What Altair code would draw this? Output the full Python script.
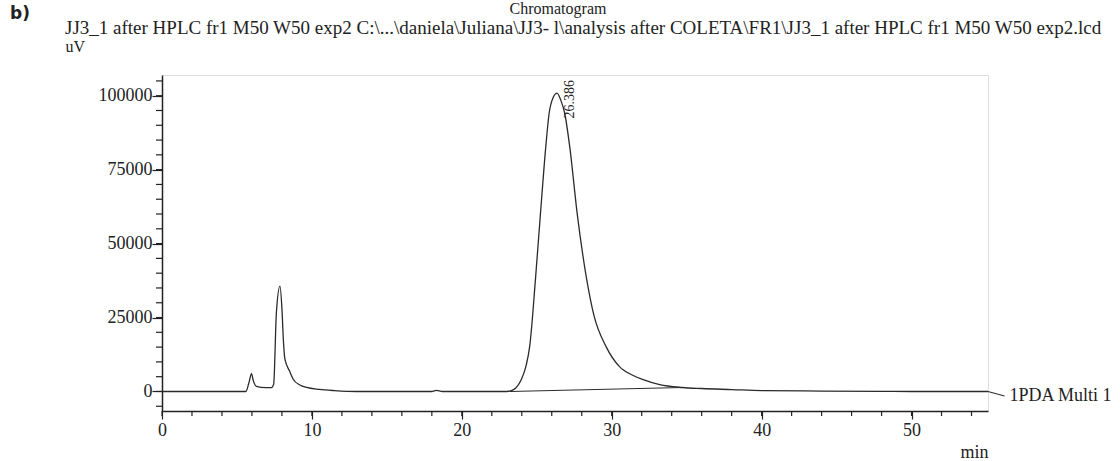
import altair as alt
import pandas as pd

# ---- data ----
time_min = [0, 2.5, 5.6, 5.8, 5.97, 6.1, 6.3, 6.6, 7.3, 7.45, 7.63, 7.87, 8.0, 8.1, 8.2, 8.5,
            8.75, 9.2, 9.65, 10.5, 11.5, 13, 18, 18.3, 18.7, 20, 23.0, 23.3, 23.6, 23.98, 24.3,
            24.53, 24.91, 25.25, 25.6, 25.82, 26.1, 26.35, 26.6, 26.87, 27.2, 27.69, 28.31,
            28.8, 29.64, 30.5, 31.4, 32.1, 33.2, 34.7, 36, 38, 40, 44, 48, 50, 55.1]
signal_uv = [0, 0, 0, 3000, 6000, 3500, 1700, 1400, 1300, 2500, 26600, 35600, 28000, 17000,
             10900, 7000, 4140, 2200, 1350, 700, 300, 0, 0, 400, 0, 0, 0, 300, 1200, 4140, 9000,
             15350, 37800, 60400, 82700, 93900, 99500, 100900, 98500, 93900, 82700, 60400, 38500,
             26000, 15000, 8500, 5500, 4000, 2300, 1350, 1000, 650, 300, 150, 50, 0, 0]

baseline_time = [23.2, 34.7]
baseline_uv = [0, 1350]

lead_time = [55.1, 56.2]
lead_uv = [0, -1500]
trace_label = "1PDA Multi 1"

peak_rt = [26.386]
peak_label = ["26.386"]

x_major = [0, 10, 20, 30, 40, 50]
x_minor = list(range(0, 56, 2))
y_major = [0, 25000, 50000, 75000, 100000]
y_minor = list(range(-5000, 105001, 5000))

title_main = "Chromatogram"
title_sub = ("JJ3_1 after HPLC fr1 M50 W50 exp2 C:\\...\\daniela\\Juliana\\JJ3- l\\analysis after "
             "COLETA\\FR1\\JJ3_1 after HPLC fr1 M50 W50 exp2.lcd")

SERIF = "Liberation Serif"
INK = "#222222"
FS = 18

xs = alt.Scale(domain=[0, 55.1], nice=False, zero=False)
ys = alt.Scale(domain=[-6600, 107000], nice=False, zero=False)

sig_df = pd.DataFrame({"t": time_min, "v": signal_uv})
base_df = pd.DataFrame({"t": baseline_time, "v": baseline_uv})
lead_df = pd.DataFrame({"t": lead_time, "v": lead_uv})
peak_df = pd.DataFrame({"t": peak_rt, "lab": peak_label})

signal = alt.Chart(sig_df).mark_line(color="#2b2b2b", strokeWidth=1.3, interpolate="monotone").encode(
    x=alt.X("t:Q", scale=xs, axis=alt.Axis(
        values=x_major, orient="bottom", tickSize=8, labelPadding=2, labelFont=SERIF,
        labelFontSize=FS, labelColor=INK, tickColor=INK, domainColor=INK, domainWidth=1.5,
        tickWidth=1.2, grid=False, title="min", titleFont=SERIF, titleFontSize=FS,
        titleFontWeight="normal", titleColor=INK, titleAlign="right", titleX=826,
        titleY=41, titleBaseline="middle", labelFlush=False, format="d")),
    y=alt.Y("v:Q", scale=ys, axis=alt.Axis(
        values=y_major, orient="left", tickSize=10, labelPadding=0, labelFont=SERIF,
        labelFontSize=FS, labelColor=INK, tickColor=INK, domainColor=INK, domainWidth=1.5,
        tickWidth=1.2, grid=False, title="uV", titleFont=SERIF, titleFontSize=16,
        titleFontWeight="normal", titleColor=INK, titleAngle=0, titleAlign="left",
        titleBaseline="middle", titleX=-97, titleY=-29, labelFlush=False, format="d")),
)

baseline = alt.Chart(base_df).mark_line(color="#2b2b2b", strokeWidth=1.1).encode(
    x=alt.X("t:Q", scale=xs), y=alt.Y("v:Q", scale=ys))

x_ticks = alt.Chart(pd.DataFrame({"t": x_minor})).mark_rule(color=INK, strokeWidth=1.2).encode(
    x=alt.X("t:Q", scale=xs), y=alt.value(336), y2=alt.value(341))
y_ticks = alt.Chart(pd.DataFrame({"v": y_minor})).mark_rule(color=INK, strokeWidth=1.2).encode(
    y=alt.Y("v:Q", scale=ys), x=alt.value(-6), x2=alt.value(0))

lead = alt.Chart(lead_df).mark_line(color="#2b2b2b", strokeWidth=1.1).encode(
    x=alt.X("t:Q", scale=xs), y=alt.Y("v:Q", scale=ys))

lead_text = alt.Chart(pd.DataFrame({"t": [lead_time[-1]], "v": [lead_uv[-1]],
                                    "lab": [trace_label]})).mark_text(
    align="left", baseline="middle", font=SERIF, fontSize=FS, color=INK, dx=5
).encode(x=alt.X("t:Q", scale=xs), y=alt.Y("v:Q", scale=ys), text="lab:N")

peak_text = alt.Chart(peak_df).mark_text(
    angle=270, align="right", baseline="middle", font=SERIF, fontSize=14, color=INK, dy=12
).encode(x=alt.X("t:Q", scale=xs), y=alt.value(5), text="lab:N")

one = alt.Data(values=[{}])
t_main = alt.Chart(one).mark_text(text=title_main, font=SERIF, fontSize=16, color=INK,
                                  align="center", baseline="middle").encode(
    x=alt.value(396), y=alt.value(-66))
t_sub = alt.Chart(one).mark_text(text=title_sub, font=SERIF, fontSize=19, color=INK,
                                 align="left", baseline="middle").encode(
    x=alt.value(-97), y=alt.value(-47))
t_b = alt.Chart(one).mark_text(text="b)", font="DejaVu Sans", fontSize=17, fontWeight="bold",
                               color=INK, align="left", baseline="middle").encode(
    x=alt.value(-152), y=alt.value(-61))

chart = alt.layer(signal, baseline, x_ticks, y_ticks, lead, lead_text, peak_text,
                  t_main, t_sub, t_b).properties(
    width=826, height=336,
    autosize=alt.AutoSizeParams(type="none"),
    padding={"left": 162, "top": 75, "right": 132, "bottom": 50},
).configure_view(stroke="#333333", strokeWidth=1.5).configure(background="white")

chart.save("out.html", embed_options={"renderer": "svg", "actions": False})
